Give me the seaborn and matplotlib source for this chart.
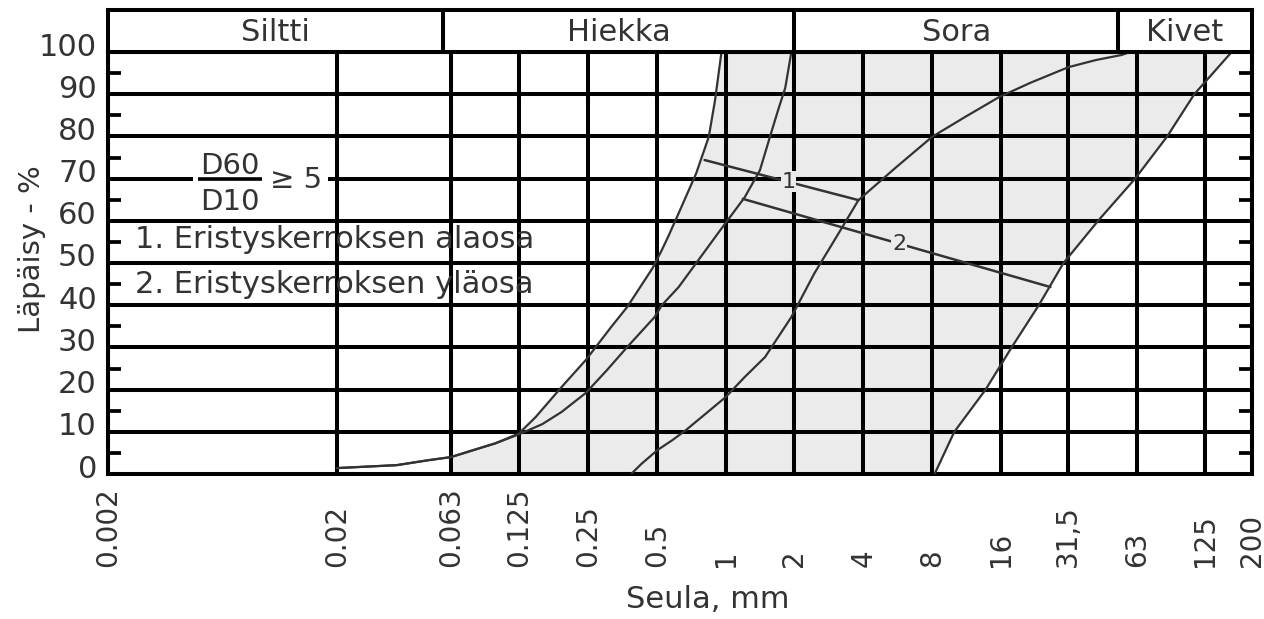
import numpy as np
import pandas as pd
import matplotlib
matplotlib.use("Agg")
import matplotlib.pyplot as plt
from matplotlib.ticker import NullLocator
from matplotlib.transforms import ScaledTranslation
import seaborn as sns

# sieve sizes (mm) used as vertical grid and x tick labels
sieves = [0.002, 0.02, 0.063, 0.125, 0.25, 0.5, 1, 2, 4, 8, 16, 31.5, 63, 125, 200]
sieve_labels = ["0.002", "0.02", "0.063", "0.125", "0.25", "0.5", "1", "2",
                "4", "8", "16", "31,5", "63", "125", "200"]
pass_ticks = list(range(0, 101, 10))
half_ticks = list(range(5, 100, 10))

# soil classes in the top band
band_edges = [0.002, 0.058, 2, 52, 200]
band_names = ["Siltti", "Hiekka", "Sora", "Kivet"]

# grading curves, sieve size (mm) vs passing (%)
curve_a_x = [0.02, 0.0366, 0.0507, 0.063, 0.099, 0.125, 0.148, 0.192, 0.245, 0.316,
             0.372, 0.48, 0.527, 0.561, 0.624, 0.745, 0.845, 0.90, 0.95, 0.96]
curve_a_y = [1.4, 2.1, 3.3, 4.0, 7.3, 9.6, 13.5, 20.6, 27.0, 34.8,
             39.6, 48.8, 53.1, 56.2, 61.8, 71.3, 79.9, 88.6, 98.1, 100]

curve_b_x = [0.02, 0.0366, 0.0507, 0.063, 0.099, 0.125, 0.158, 0.192, 0.245, 0.303,
             0.372, 0.49, 0.527, 0.624, 0.745, 0.949, 1.214, 1.414, 1.582,
             1.699, 1.824, 1.94]
curve_b_y = [1.4, 2.1, 3.3, 4.0, 7.3, 9.4, 11.8, 14.7, 19.2, 24.6,
             30.1, 37.2, 40.0, 44.3, 50.0, 57.8, 65.6, 72.0, 80.8,
             86.3, 91.5, 100]

curve_c_x = [0.387, 0.429, 0.505, 0.585, 0.671, 0.828, 1.0, 1.214, 1.488,
             1.94, 2.448, 3.055, 3.81, 5.57, 8.0, 11.14, 15.67, 21.5, 31.5,
             41.6, 53.9, 58.6]
curve_c_y = [0, 2.4, 5.7, 8.0, 10.4, 14.5, 18.2, 23.0, 27.7,
             37.2, 47.6, 56.2, 64.9, 72.7, 79.9, 84.6, 89.3, 92.7, 96.4,
             98.1, 99.3, 100]

curve_d_x = [8.2, 10.0, 13.7, 17.8, 23.4, 30.0, 42.5, 61.7, 85.2, 111.9, 163]
curve_d_y = [0, 10, 20, 30, 40, 50, 60, 70, 80, 90, 100]

# D60/D10 marker lines
line1_x = [0.81, 3.81]
line1_y = [74.4, 64.9]
line2_x = [1.19, 26.3]
line2_y = [65.2, 44.3]

LW = 2.9
INK = "#333333"
FILL = "#ebebeb"

sns.set_style("white")
plt.rcParams["font.family"] = ["DejaVu Sans"]

fig = plt.figure(figsize=(12.64, 6.19), dpi=100)
W, H = 1264, 619
ax = fig.add_axes([108 / W, 1 - 474 / H, 1144 / W, 422 / H])
ax.set_xscale("log")
ax.set_xlim(0.002, 200)
ax.set_ylim(0, 100)
ax.set_axisbelow(False)

# shaded envelope between curve A and curve D
ax_arr, ay_arr = np.array(curve_a_x), np.array(curve_a_y)
keep = ax_arr >= 0.063
poly_x = [0.063] + list(ax_arr[keep]) + curve_d_x[::-1]
poly_y = [0] + list(ay_arr[keep]) + curve_d_y[::-1]
ax.fill(poly_x, poly_y, color=FILL, lw=0, zorder=1)

curves = pd.concat([
    pd.DataFrame({"mm": curve_a_x, "p": curve_a_y, "c": "A"}),
    pd.DataFrame({"mm": curve_b_x, "p": curve_b_y, "c": "B"}),
    pd.DataFrame({"mm": curve_c_x, "p": curve_c_y, "c": "C"}),
    pd.DataFrame({"mm": curve_d_x, "p": curve_d_y, "c": "D"}),
])
sns.lineplot(data=curves, x="mm", y="p", units="c", estimator=None, sort=False,
             color=INK, lw=1.6, ax=ax, zorder=3)
sns.lineplot(x=line1_x, y=line1_y, color=INK, lw=1.8, ax=ax, zorder=3)
sns.lineplot(x=line2_x, y=line2_y, color=INK, lw=1.8, ax=ax, zorder=3)

# line labels sitting on the lines
for lx, ly, txt, px in [(line1_x, line1_y, "1", 1.88), (line2_x, line2_y, "2", 5.74)]:
    py = np.interp(np.log(px), np.log(lx), ly)
    ax.text(px, py, txt, ha="center", va="center", fontsize=16, color=INK, zorder=4,
            bbox=dict(facecolor=FILL, edgecolor="none", pad=0.5))

# grid and frame
ax.set_xticks(sieves)
ax.set_xticklabels(sieve_labels, rotation=90, fontsize=20, color=INK)
ax.xaxis.set_minor_locator(NullLocator())
for lab in ax.get_xticklabels():
    lab.set_va("bottom")
ax.set_yticks(pass_ticks)
ax.set_yticklabels([str(v) for v in pass_ticks], fontsize=22, color=INK)
ax.set_yticks(half_ticks, minor=True)
ax.grid(True, which="major", color="black", lw=LW)
ax.tick_params(axis="x", which="major", length=0, pad=67)
ax.tick_params(axis="y", which="major", length=0, pad=8)
ax.tick_params(axis="y", which="minor", direction="in", length=9.5, width=2.7,
               color="black", left=True, right=True)
shift = ScaledTranslation(0, 0.08, fig.dpi_scale_trans)
for lab in ax.get_yticklabels():
    lab.set_transform(lab.get_transform() + shift)
for sp in ax.spines.values():
    sp.set_visible(True)
    sp.set_color("black")
    sp.set_linewidth(LW)
ax.set_xlabel("")
ax.set_ylabel("")

# D60/D10 >= 5 note
ax.hlines(70, 0.0047, 0.0183, color="white", lw=6, zorder=2.8)
ax.hlines(70, 0.00497, 0.0094, color="black", lw=2.6, zorder=3)
ax.text(0.00682, 71.0, "D60", ha="center", va="baseline", fontsize=21, color=INK)
ax.text(0.00682, 62.6, "D10", ha="center", va="baseline", fontsize=21, color=INK)
ax.text(0.0102, 69.6, "\u2265 5", ha="left", va="center", fontsize=21, color=INK)

ax.text(0.00262, 53.6, "1. Eristyskerroksen alaosa", ha="left", va="baseline",
        fontsize=22, color=INK)
ax.text(0.00262, 42.9, "2. Eristyskerroksen yläosa", ha="left", va="baseline",
        fontsize=22, color=INK)

# soil class band on top
band = fig.add_axes([108 / W, 1 - 52 / H, 1144 / W, 42 / H])
band.set_xscale("log")
band.set_xlim(0.002, 200)
band.set_ylim(0, 1)
band.xaxis.set_major_locator(NullLocator())
band.xaxis.set_minor_locator(NullLocator())
band.set_yticks([])
for e in band_edges[1:-1]:
    band.axvline(e, color="black", lw=LW)
for name, lo, hi in zip(band_names, band_edges[:-1], band_edges[1:]):
    band.text(np.sqrt(lo * hi), 0.47, name, ha="center", va="center",
              fontsize=22, color=INK)
for sp in band.spines.values():
    sp.set_visible(True)
    sp.set_color("black")
    sp.set_linewidth(LW)

fig.text(32 / W, 1 - 249 / H, "Läpäisy - %", rotation=90, ha="center", va="center",
         fontsize=21, color=INK)
fig.text(708 / W, 1 - 600 / H, "Seula, mm", ha="center", va="center",
         fontsize=22, color=INK)

fig.savefig("out.png", dpi=100)
